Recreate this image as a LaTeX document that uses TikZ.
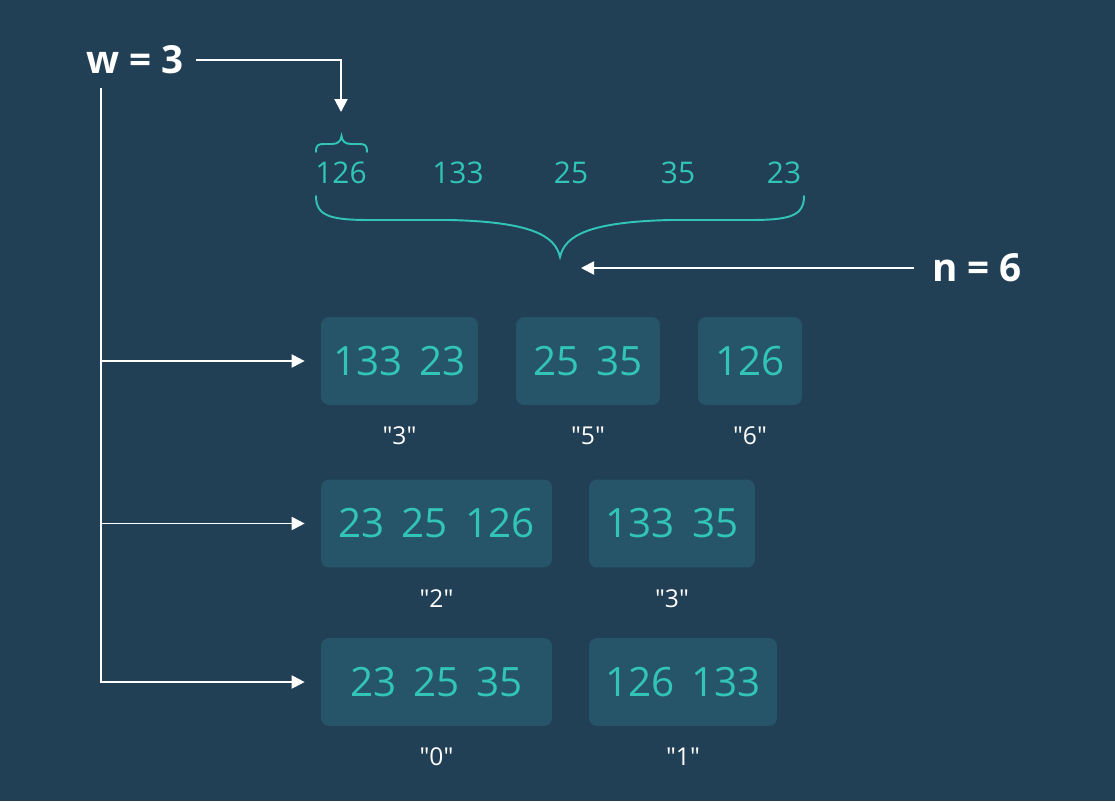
\documentclass[tikz,border=0pt]{standalone}
\usepackage{fontspec}
\setmainfont{Open Sans}
\usetikzlibrary{arrows.meta, positioning}
\definecolor{bgc}{HTML}{213F55}
\definecolor{boxc}{HTML}{265468}
\definecolor{tealc}{HTML}{31C4B7}
\newcommand{\numgap}{\hspace{0.42em}}
\newcommand{\qt}[1]{\textquotedbl#1\textquotedbl}

\begin{document}
\begin{tikzpicture}[x=0.02cm, y=-0.02cm,
    box/.style={rectangle, fill=boxc, rounded corners=0.16cm, minimum height=1.76cm, text=tealc, font=\fontsize{23}{27}\selectfont, inner sep=0pt},
    num/.style={text=tealc, font=\fontsize{17}{20}\selectfont, inner sep=0pt},
    lab/.style={text=white, font=\fontsize{14}{17}\selectfont, inner sep=0pt},
    big/.style={text=white, font=\bfseries\fontsize{22}{26}\selectfont, inner sep=0pt},
    line/.style={draw=white, line width=1.1pt, -{Triangle[length=0.26cm, width=0.26cm]}},
    curly/.style={draw=tealc, line width=1.1pt, line cap=round}
]
    % Background
    \fill[bgc] (0,0) rectangle (1115,801);

    % Parameters
    \node [big] (w) at (135,60) {w = 3};
    \node [big] (n) at (977,268) {n = 6};
    \coordinate (wtip) at (341,112);
    \coordinate (nend) at (581,268);
    \coordinate (top) at (101,88);

    % Input values
    \node [num] (v1) at (341,173) {126};
    \node [num] (v2) at (458,173) {133};
    \node [num] (v3) at (571,173) {25};
    \node [num] (v4) at (678,173) {35};
    \node [num] (v5) at (784,173) {23};

    % Braces
    \draw [curly] (316,152) .. controls (316,145) and (318,144) .. (324,144) -- (332,144)
        .. controls (338,144) and (341,141) .. (341.5,136)
        .. controls (342,141) and (345,144) .. (351,144) -- (359,144)
        .. controls (365,144) and (367,145) .. (367,152);
    \draw [curly] (316,196) .. controls (316,216) and (330,220) .. (370,220) -- (450,220)
        .. controls (530,222) and (555,235) .. (560,257)
        .. controls (565,235) and (590,222) .. (670,220) -- (750,220)
        .. controls (790,220) and (804,216) .. (804,196);

    % Buckets, first hash
    \node [box, minimum width=3.14cm] (r1a) at (399.5,361) {133\numgap23};
    \node [box, minimum width=2.88cm] (r1b) at (588,361) {25\numgap35};
    \node [box, minimum width=2.08cm] (r1c) at (750,361) {126};
    \node [lab, below=0.42cm of r1a] (l1a) {\qt{3}};
    \node [lab, below=0.42cm of r1b] (l1b) {\qt{5}};
    \node [lab, below=0.42cm of r1c] (l1c) {\qt{6}};

    % Buckets, second hash
    \node [box, minimum width=4.62cm] (r2a) at (436.5,523.5) {23\numgap25\numgap126};
    \node [box, minimum width=3.32cm] (r2b) at (672,523.5) {133\numgap35};
    \node [lab, below=0.42cm of r2a] (l2a) {\qt{2}};
    \node [lab, below=0.42cm of r2b] (l2b) {\qt{3}};

    % Buckets, third hash
    \node [box, minimum width=4.62cm] (r3a) at (436.5,682) {23\numgap25\numgap35};
    \node [box, minimum width=3.76cm] (r3b) at (683,682) {126\numgap133};
    \node [lab, below=0.42cm of r3a] (l3a) {\qt{0}};
    \node [lab, below=0.42cm of r3b] (l3b) {\qt{1}};

    % Connections
    \draw [line] ([xshift=0.24cm]w.east) -| (wtip);
    \draw [line] ([xshift=-0.36cm]n.west) -- (nend);
    \draw [line] (top) |- ([xshift=-0.32cm]r3a.west);
    \draw [line] (top |- r1a) -- ([xshift=-0.32cm]r1a.west);
    \draw [line] (top |- r2a) -- ([xshift=-0.32cm]r2a.west);
\end{tikzpicture}
\end{document}
